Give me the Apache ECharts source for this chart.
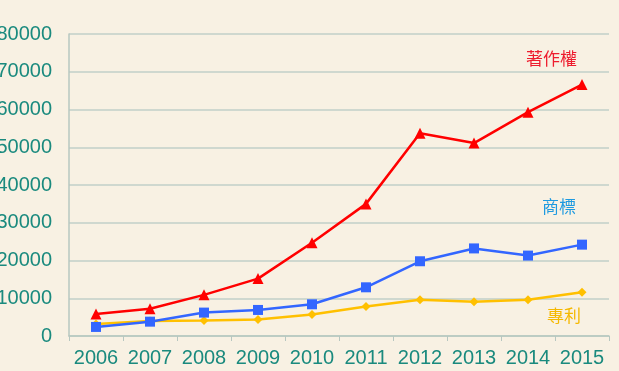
<!DOCTYPE html>
<html><head><meta charset="utf-8">
<script src="https://cdn.jsdelivr.net/npm/echarts@6/dist/echarts.min.js"></script>
<style>html,body{margin:0;padding:0;background:#f8f1e3;}#c{width:619px;height:371px;}</style>
</head><body><div id="c"></div>
<script>
const years = ['2006','2007','2008','2009','2010','2011','2012','2013','2014','2015'];
const copyright = [5800, 7200, 10900, 15200, 24700, 35000, 53700, 51100, 59300, 66600];
const trademark = [2400, 3800, 6200, 6900, 8400, 12900, 19800, 23200, 21300, 24200];
const patent = [3200, 4000, 4100, 4400, 5700, 7800, 9600, 9100, 9600, 11600];
const seriesNames = ['著作權', '商標', '專利'];
const yTicks = [0, 10000, 20000, 30000, 40000, 50000, 60000, 70000, 80000];

const chart = echarts.init(document.getElementById('c'));
const txt = '#1a8a7e';
function mk(name, data, color, symbol, size, z) {
  return { name, type: 'line', data, symbol, symbolSize: size, showSymbol: true,
    lineStyle: { color, width: 2.5 }, itemStyle: { color }, z };
}
chart.setOption({
  backgroundColor: '#f8f1e3',
  animation: false,
  grid: { left: 69, right: 10, top: 34, bottom: 35, containLabel: false, outerBoundsMode: 'none' },
  xAxis: {
    type: 'category', data: years, boundaryGap: true,
    axisLine: { lineStyle: { color: '#b7c7c0', width: 1.5 } },
    axisTick: { show: true, length: 5, interval: 0, lineStyle: { color: '#b7c7c0' } },
    axisLabel: { interval: 0, color: txt, fontSize: 20, fontFamily: 'Liberation Sans', margin: 12 }
  },
  yAxis: {
    type: 'value', min: yTicks[0], max: yTicks[yTicks.length - 1], interval: 10000,
    axisLine: { show: true, lineStyle: { color: '#b7c7c0', width: 1.5 } },
    axisTick: { show: false },
    splitLine: { lineStyle: { color: '#c2cfc8', width: 1.5 } },
    axisLabel: { color: txt, fontSize: 20, fontFamily: 'Liberation Sans', margin: 17,
      formatter: v => String(v) }
  },
  series: [
    mk(seriesNames[2], patent, '#ffc000', 'diamond', 9, 3),
    mk(seriesNames[1], trademark, '#3366ff', 'rect', 10, 4),
    mk(seriesNames[0], copyright, '#ff0000', 'triangle', 11, 5)
  ],
  graphic: [
    { type: 'text', left: 526, top: 50, style: { text: seriesNames[0], fill: '#ee1c2e', font: '17px "Noto Sans CJK TC"' } },
    { type: 'text', left: 542, top: 198, style: { text: seriesNames[1], fill: '#1e9ae0', font: '17px "Noto Sans CJK TC"' } },
    { type: 'text', left: 547, top: 307, style: { text: seriesNames[2], fill: '#f5b800', font: '17px "Noto Sans CJK TC"' } }
  ]
});
</script></body></html>
